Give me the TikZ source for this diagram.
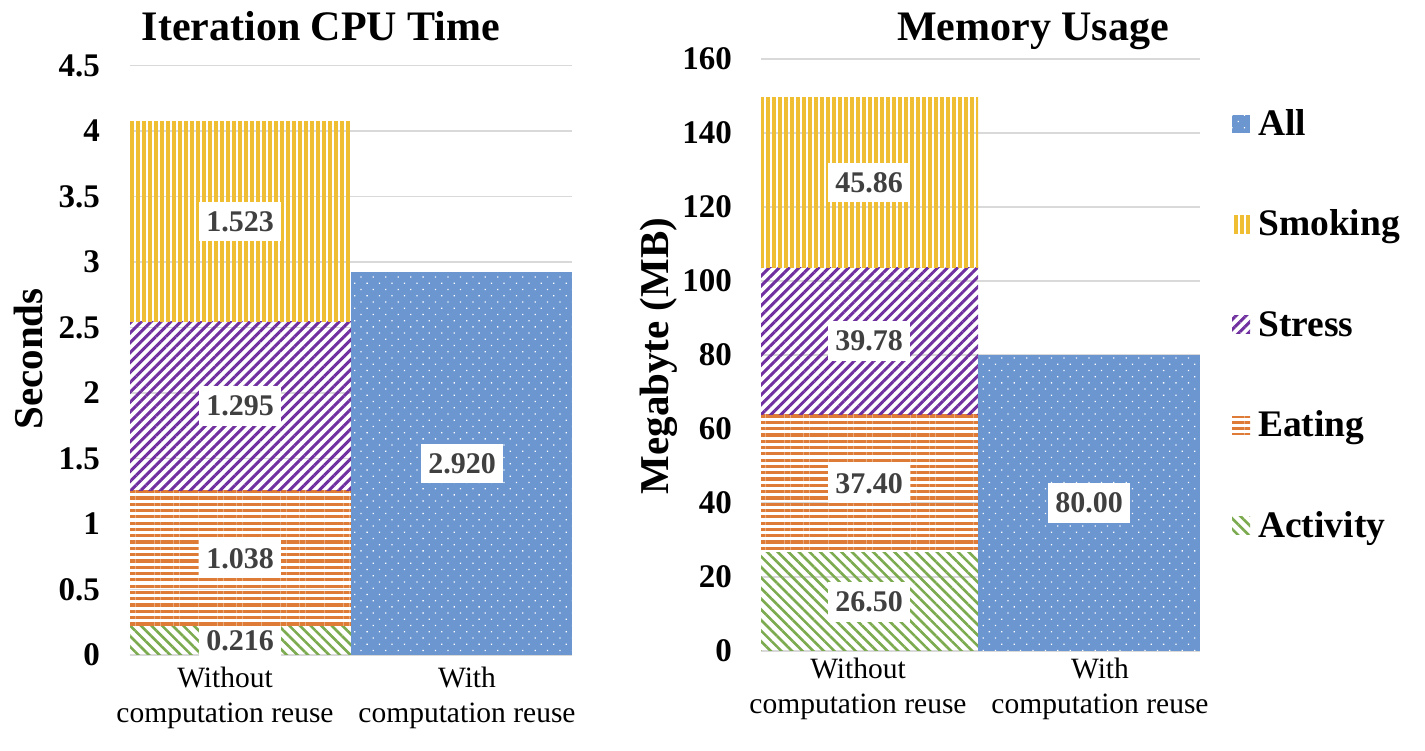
\documentclass[tikz,border=0pt]{standalone}
\usepackage{fontspec}
\setmainfont{Liberation Serif}
\usepackage{tikz}
\usetikzlibrary{patterns.meta}

\definecolor{allblue}{HTML}{6B96D0}
\definecolor{smokegold}{HTML}{F0BE32}
\definecolor{stresspurple}{HTML}{7030A0}
\definecolor{eatorange}{HTML}{DD7B37}
\definecolor{actgreen}{HTML}{7BAA4F}
\definecolor{gridgray}{HTML}{D9D9D9}
\definecolor{valgray}{HTML}{404040}

\tikzset{
  allfill/.style={fill=allblue, postaction={pattern={Dots[angle=45,distance=8.8pt,radius=0.9pt]}, pattern color=white}},
  smokefill/.style={pattern={Lines[angle=90,distance=6pt,line width=4pt]}, pattern color=smokegold},
  stressfill/.style={pattern={Lines[angle=45,distance=7pt,line width=3pt]}, pattern color=stresspurple},
  eatfill/.style={pattern={Lines[angle=0,distance=6.3pt,line width=3.2pt]}, pattern color=eatorange},
  actfill/.style={pattern={Lines[angle=-45,distance=7.5pt,line width=2.6pt]}, pattern color=actgreen},
}

\begin{document}
\begin{tikzpicture}[x=1pt,y=1pt,
    grid/.style={draw=gridgray, line width=1.5pt},
    tick/.style={anchor=east, inner sep=0pt, font=\fontsize{33}{33}\selectfont\bfseries},
    val/.style={fill=white, text=valgray, inner xsep=7pt, inner ysep=9.5pt, font=\fontsize{30}{30}\selectfont\bfseries},
    cat/.style={anchor=north, inner sep=0pt, align=center, font=\fontsize{29.5}{35}\selectfont},
    title/.style={anchor=base, inner sep=0pt, font=\fontsize{42}{42}\selectfont\bfseries},
    axlabel/.style={anchor=base, rotate=90, inner sep=0pt, font=\fontsize{41}{41}\selectfont\bfseries},
    legtext/.style={anchor=base west, inner sep=0pt, font=\fontsize{37.5}{37.5}\selectfont\bfseries}]
\useasboundingbox (0,0) rectangle (1425,750);

% CPU time
\node[title] (cputitle) at (321,709) {Iteration CPU Time};
\node[axlabel] (cpuaxis) at (42,391) {Seconds};
\begin{scope}[shift={(130,95)}, y=131pt]
  \foreach \v [count=\i] in {0,0.5,1,1.5,2,2.5,3,3.5,4,4.5} {
    \draw[grid] (0,\v) -- (442,\v);
    \node[tick] (ctick\i) at (-30,\v) {\v};
  }
  \foreach \lo/\hi/\s/\t [count=\i] in {0/0.216/actfill/0.216, 0.216/1.254/eatfill/1.038,
      1.254/2.549/stressfill/1.295, 2.549/4.072/smokefill/1.523} {
    \fill[\s] (0,\lo) rectangle (221,\hi);
    \node[val] (cval\i) at (110,{(\lo+\hi)/2}) {\t};
  }
  \fill[allfill] (221,0) rectangle (442,2.920);
  \node[val] (cvalall) at (332,1.46) {2.920};
\end{scope}
\node[cat] (cpuwo) at (225,83) {Without\\computation reuse};
\node[cat] (cpuwi) at (467,83) {With\\computation reuse};

% memory
\node[title] (memtitle) at (1033,709) {Memory Usage};
\node[axlabel] (memaxis) at (668,394) {Megabyte (MB)};
\begin{scope}[shift={(761,99)}, y=3.7pt]
  \foreach \v [count=\i] in {0,20,...,160} {
    \draw[grid] (0,\v) -- (439,\v);
    \node[tick] (mtick\i) at (-29,\v) {\v};
  }
  \foreach \lo/\hi/\s/\t [count=\i] in {0/26.50/actfill/26.50, 26.50/63.90/eatfill/37.40,
      63.90/103.68/stressfill/39.78, 103.68/149.54/smokefill/45.86} {
    \fill[\s] (0,\lo) rectangle (217,\hi);
    \node[val] (mval\i) at (108,{(\lo+\hi)/2}) {\t};
  }
  \fill[allfill] (217,0) rectangle (439,80);
  \node[val] (mvalall) at (328,40) {80.00};
\end{scope}
\node[cat] (memwo) at (858,92) {Without\\computation reuse};
\node[cat] (memwi) at (1100,92) {With\\computation reuse};

% legend
\foreach \s/\t [count=\i] in {allfill/All, smokefill/Smoking, stressfill/Stress, eatfill/Eating, actfill/Activity} {
  \fill[\s] (1232,{614.5-100.4*(\i-1)+2.5}) rectangle ++(18,18);
  \node[legtext] (leg\i) at (1258,{614.5-100.4*(\i-1)}) {\t};
}
\end{tikzpicture}
\end{document}
